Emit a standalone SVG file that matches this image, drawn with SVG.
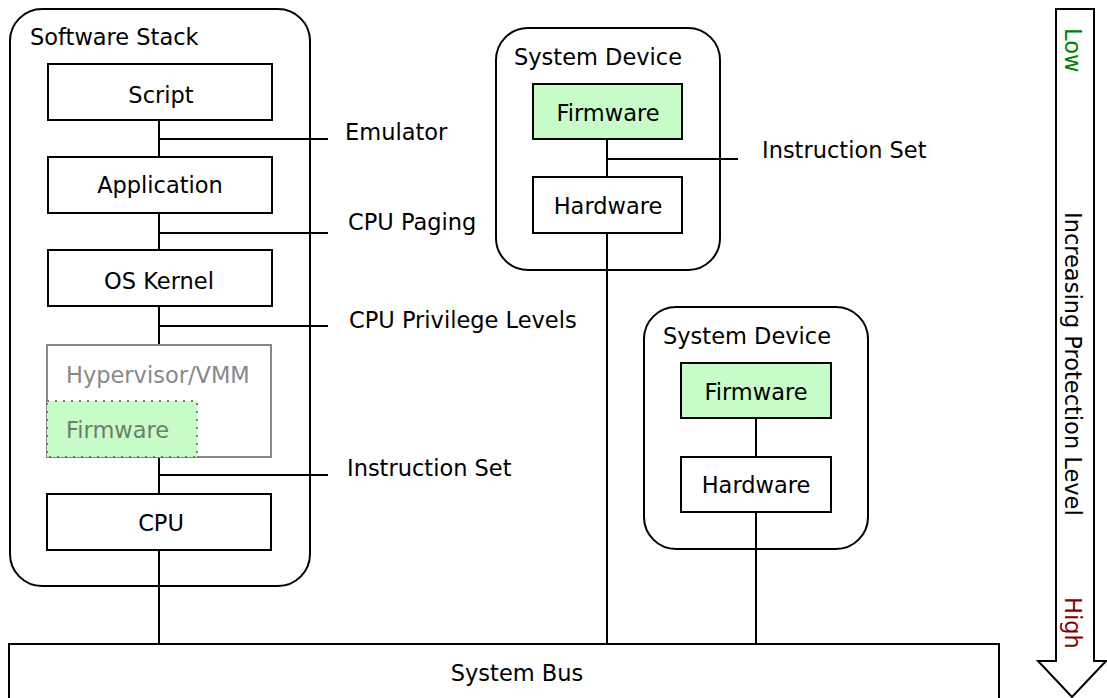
<svg xmlns="http://www.w3.org/2000/svg" width="1107" height="698" viewBox="0 0 1107 698">
<style>
text{font-family:"DejaVu Sans",sans-serif;font-size:22.5px;fill:#000}
.c{text-anchor:middle}
.box{fill:#fff;stroke:#000;stroke-width:2}
.grp{fill:#fff;stroke:#000;stroke-width:2}
.fw{fill:#c8fcc8;stroke:#000;stroke-width:2}
.ln{stroke:#000;stroke-width:2;fill:none}
</style>
<rect x="0" y="0" width="1107" height="698" fill="#fff"/>
<g id="software-stack">
<rect class="grp" x="10" y="9" width="300" height="577" rx="32"/>
<text x="30" y="45">Software Stack</text>
</g>
<g id="device1">
<rect class="grp" x="496" y="28" width="224" height="242" rx="32"/>
<text x="514" y="65">System Device</text>
</g>
<g id="device2">
<rect class="grp" x="644" y="307" width="224" height="242" rx="32"/>
<text x="663" y="344">System Device</text>
</g>
<g id="connectors">
<path class="ln" d="M159 120V157M159 213V250M159 306V345M159 457V494M159 550V644"/>
<path class="ln" d="M159 139H328M159 233H328M159 326H328M159 475H328"/>
<path class="ln" d="M607 139V177M607 233V644M607 159H738"/>
<path class="ln" d="M756 418V457M756 512V644"/>
</g>
<g id="script"><rect class="box" x="48" y="64" width="224" height="56"/><text class="c" x="161" y="103">Script</text></g>
<g id="application"><rect class="box" x="48" y="157" width="224" height="56"/><text class="c" x="160" y="193">Application</text></g>
<g id="os-kernel"><rect class="box" x="48" y="250" width="224" height="56"/><text class="c" x="159" y="289">OS Kernel</text></g>
<g id="hypervisor">
<rect x="47" y="345" width="224" height="112" fill="#fff" stroke="#888" stroke-width="2"/>
<text x="66" y="383" style="fill:#888">Hypervisor/VMM</text>
</g>
<g id="firmware-sw">
<rect x="47" y="401" width="150" height="56" fill="#c8fcc8" stroke="#777" stroke-width="2" stroke-dasharray="2 6"/>
<text x="66" y="438" style="fill:#6a806a">Firmware</text>
</g>
<g id="cpu"><rect class="box" x="47" y="494" width="224" height="56"/><text class="c" x="161" y="531">CPU</text></g>
<g id="fw1"><rect class="fw" x="533" y="84" width="149" height="55"/><text class="c" x="608" y="121">Firmware</text></g>
<g id="hw1"><rect class="box" x="533" y="177" width="149" height="56"/><text class="c" x="608" y="214">Hardware</text></g>
<g id="fw2"><rect class="fw" x="681" y="363" width="150" height="55"/><text class="c" x="756" y="400">Firmware</text></g>
<g id="hw2"><rect class="box" x="681" y="457" width="150" height="55"/><text class="c" x="756" y="493">Hardware</text></g>
<g id="labels">
<text x="345" y="140">Emulator</text>
<text x="348" y="230">CPU Paging</text>
<text x="349" y="328">CPU Privilege Levels</text>
<text x="347" y="476">Instruction Set</text>
<text x="762" y="158">Instruction Set</text>
</g>
<g id="system-bus"><rect class="box" x="9" y="644" width="990" height="62"/><text class="c" x="517" y="681">System Bus</text></g>
<g id="protection-arrow">
<path d="M1056 9H1094V661H1106L1072 697L1038 661H1056Z" fill="#fff" stroke="#000" stroke-width="2" stroke-linejoin="miter"/>
<text transform="translate(1065 28) rotate(90)" style="fill:#008000">Low</text>
<text transform="translate(1065 212) rotate(90)">Increasing Protection Level</text>
<text transform="translate(1065 597) rotate(90)" style="fill:#800000">High</text>
</g>
</svg>
